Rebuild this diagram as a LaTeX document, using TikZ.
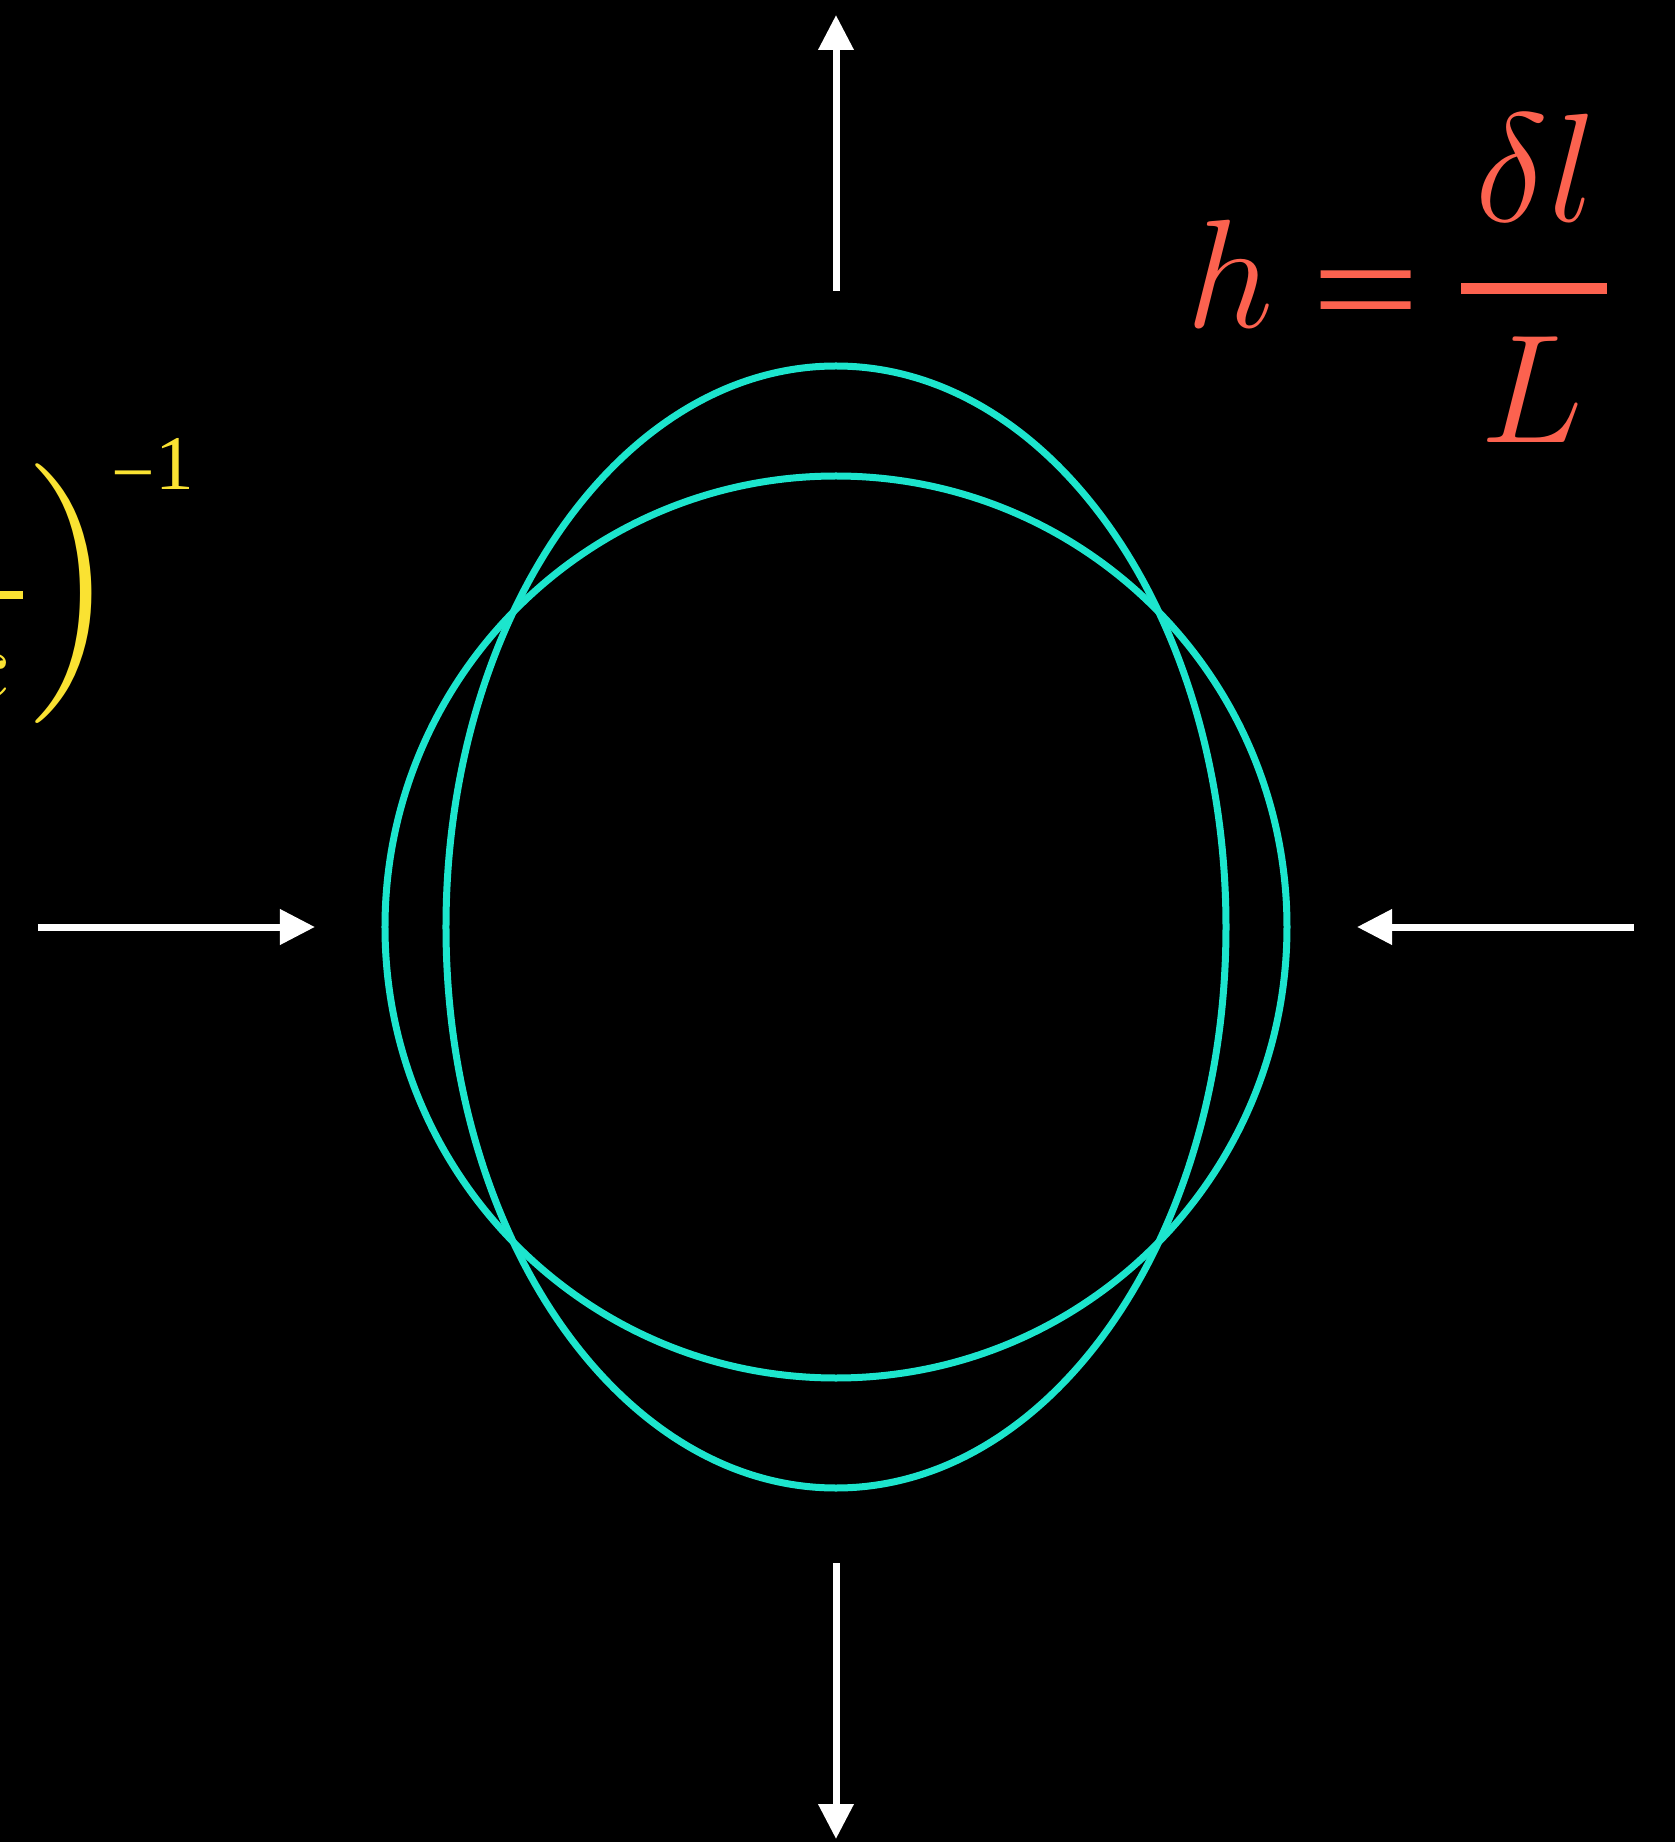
\documentclass[tikz,border=0pt]{standalone}
\usepackage{fix-cm}
\usepackage{fontspec}
\setmainfont{Liberation Serif}
\newfontfamily\lmfont{Latin Modern Roman}
\usetikzlibrary{arrows.meta}
\definecolor{ringcol}{RGB}{28,229,205}
\definecolor{strain}{RGB}{252,98,79}
\definecolor{gold}{RGB}{250,226,50}
\begin{document}
\begin{tikzpicture}[
  pull/.style={arrows={-Triangle[length=0.35cm,width=0.34cm]},color=white,line width=0.07cm},
  ring/.style={draw=ringcol,line width=0.07cm},
  bigtext/.style={font=\fontsize{44}{53}\selectfont,inner sep=0pt},
  ]
  \fill[black] (-8.36,-9.15) rectangle (8.39,9.27);
  \useasboundingbox (-8.36,-9.15) rectangle (8.39,9.27);
  \clip (-8.36,-9.15) rectangle (8.39,9.27);

  \coordinate (o) at (0,0);
  % the ring before and after the wave
  \draw[ring] (o) circle [radius=4.51];
  \draw[ring] (o) ellipse [x radius=3.90, y radius=5.61];

  % stretch and squeeze
  \coordinate (ntail) at (0,6.36);  \coordinate (nhead) at (0,9.12);
  \coordinate (stail) at (0,-6.36); \coordinate (shead) at (0,-9.12);
  \coordinate (wtail) at (-7.98,0); \coordinate (whead) at (-5.21,0);
  \coordinate (etail) at (7.98,0);  \coordinate (ehead) at (5.21,0);
  \draw[pull] (ntail) -- (nhead);
  \draw[pull] (stail) -- (shead);
  \draw[pull] (wtail) -- (whead);
  \draw[pull] (etail) -- (ehead);

  % strain
  \node[bigtext,text=strain,anchor=base west] (h) at (3.50,5.99) {$h$};
  \node[bigtext,text=strain,anchor=base,xscale=1.25] (eq) at (5.295,5.85) {=};
  \node[bigtext,text=strain,anchor=base] (dl) at (7.0,7.05) {$\delta l$};
  \node[bigtext,text=strain,anchor=base] (len) at (6.96,4.84) {$L$};
  \coordinate (barl) at (6.25,6.385); \coordinate (barr) at (7.71,6.385);
  \draw[strain,line width=0.11cm] (barl) -- (barr);

  % cut off factor on the left
  \coordinate (fbarl) at (-8.6,3.32); \coordinate (fbarr) at (-8.13,3.32);
  \draw[gold,line width=0.08cm] (fbarl) -- (fbarr);
  \node[text=gold,inner sep=0pt,anchor=base east,font=\fontsize{30}{36}\selectfont] (c) at (-8.28,2.26) {$c$};
  \node[text=gold,inner sep=0pt,font=\fontsize{74}{80}\selectfont\lmfont] (rp) at (-7.66,3.33) {)};
  \node[text=gold,inner sep=0pt,anchor=base west,font=\fontsize{22}{26}\selectfont] (ex) at (-7.25,4.37) {\raisebox{-0.25ex}{−}1};
\end{tikzpicture}
\end{document}
